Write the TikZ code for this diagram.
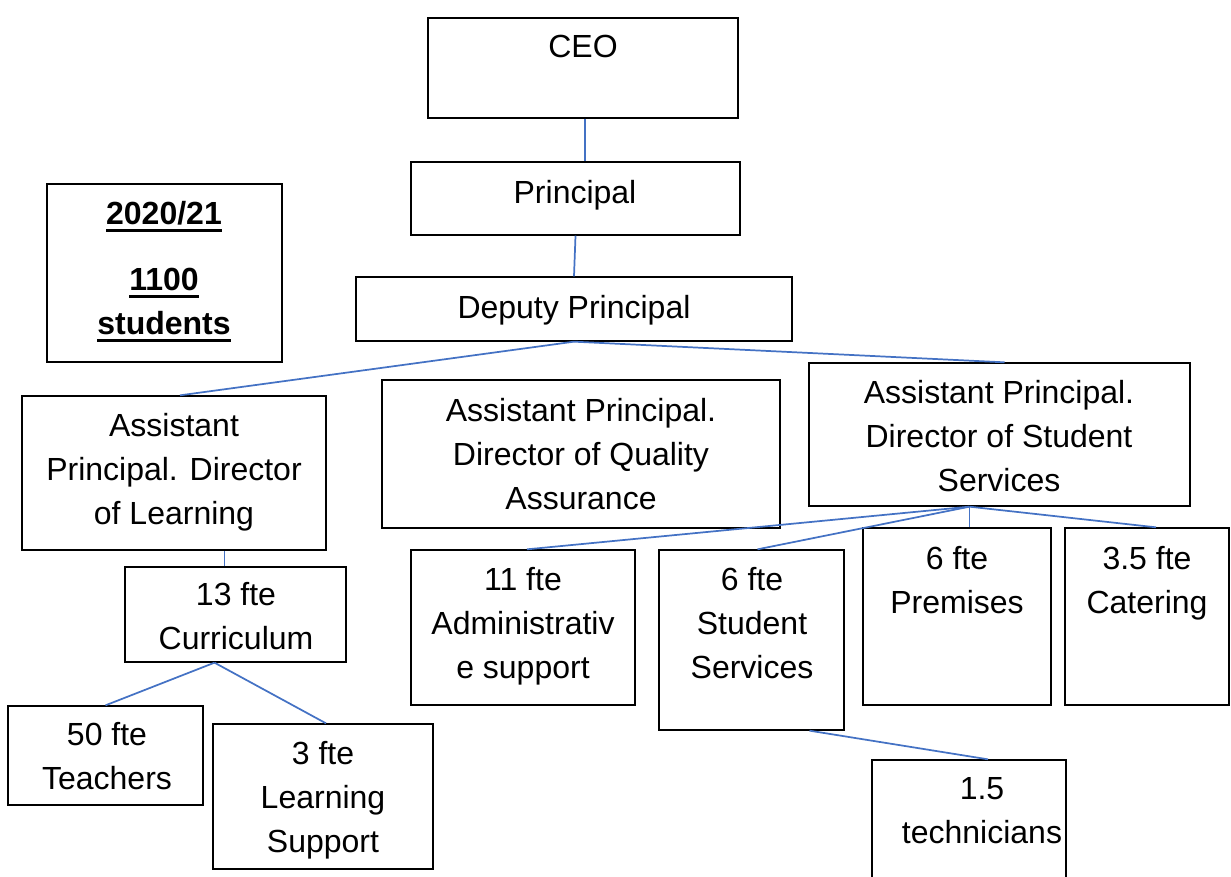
\documentclass[tikz,border=0pt]{standalone}
\usepackage{fontspec}
\setmainfont{Liberation Sans}
\usetikzlibrary{fit,calc}
\definecolor{linkblue}{HTML}{4472C4}

% heavy underline for the year box
\newcommand{\heavyul}[1]{\setbox0\hbox{#1}\rlap{\rule[-5.8pt]{\wd0}{2.4pt}}\box0}

\begin{document}
\begin{tikzpicture}[x=0.75pt,y=-0.75pt,
    unit/.style={draw, line width=1pt, inner sep=0pt},
    caption/.style={anchor=north, align=center, inner sep=0pt,
      font=\fontsize{24}{33}\selectfont},
    link/.style={draw=linkblue, line width=1.3pt}]
\clip (0,0) rectangle (1231,877);

% boxes
\node[unit, fit={(428,18) (738,118)}] (ceo) {};
\node[unit, fit={(411,162) (740,235)}] (prin) {};
\node[unit, fit={(356,277) (792,341)}] (dep) {};
\node[unit, fit={(47,184) (282,362)}] (year) {};
\node[unit, fit={(22,396) (326,550)}] (apl) {};
\node[unit, fit={(382,380) (780,528)}] (apqa) {};
\node[unit, fit={(809,363) (1190,506)}] (apss) {};
\node[unit, fit={(125,567) (346,662)}] (curric) {};
\node[unit, fit={(8,706) (203,805)}] (teach) {};
\node[unit, fit={(213,724) (433,869)}] (lsup) {};
\node[unit, fit={(411,550) (635,705)}] (admin) {};
\node[unit, fit={(659,550) (844,730)}] (ssvc) {};
\node[unit, fit={(863,528) (1051,705)}] (prem) {};
\node[unit, fit={(1065,528) (1229,705)}] (cater) {};
\node[unit, fit={(872,760) (1066,900)}] (tech) {};

% texts
\node[caption] (ceo-t) at (583,35) {CEO};
\node[caption] (prin-t) at (575,180) {Principal};
\node[caption] (dep-t) at (574,295) {Deputy Principal};
\node[caption, font=\fontsize{24}{33}\selectfont\bfseries] (year-t) at (164,201)
  {\heavyul{2020/21}\\[16.5pt]\heavyul{1100}\\\heavyul{students}};
\node[caption] (apl-t) at (174,413) {Assistant\\Principal. Director\\of Learning};
\node[caption] (apqa-t) at (581,398) {Assistant Principal.\\Director of Quality\\Assurance};
\node[caption] (apss-t) at (999,380) {Assistant Principal.\\Director of Student\\Services};
\node[caption] (curric-t) at (236,582) {13 fte\\Curriculum};
\node[caption] (teach-t) at (107,722) {50 fte\\Teachers};
\node[caption] (lsup-t) at (323,741) {3 fte\\Learning\\Support};
\node[caption] (admin-t) at (523,567) {11 fte\\Administrativ\\e support};
\node[caption] (ssvc-t) at (752,567) {6 fte\\Student\\Services};
\node[caption] (prem-t) at (957,546) {6 fte\\Premises};
\node[caption] (cater-t) at (1147,546) {3.5 fte\\Catering};
\node[caption] (tech-t) at (982,777) {1.5\\technicians};

% links
\coordinate (ceodrop) at ($(ceo.south)+(2,0)$);
\coordinate (apldrop) at ($(curric.north)+(-11,0)$);
\coordinate (cjoin) at ($(curric.south)+(-21,0)$);
\coordinate (sjoin) at ($(apss.south)+(-30,0)$);
\draw[link] (ceodrop) -- (ceodrop |- prin.north);
\draw[link] (prin.south) -- (dep.north);
\draw[link] (dep.south) -- ($(apl.north)+(6,0)$);
\draw[link] (dep.south) -- ($(apss.north)+(5,0)$);
\draw[link] (apldrop) -- (apldrop |- apl.south);
\draw[link] (cjoin) -- (teach.north);
\draw[link] (cjoin) -- ($(lsup.north)+(3,0)$);
\draw[link] (sjoin) -- ($(admin.north)+(4,0)$);
\draw[link] (sjoin) -- ($(ssvc.north)+(6,0)$);
\draw[link] (sjoin) -- (sjoin |- prem.north);
\draw[link] (sjoin) -- ($(cater.north)+(9,0)$);
\draw[link] ($(ssvc.south)+(58,0)$) -- ($(tech.north)+(19,0)$);
\end{tikzpicture}
\end{document}
